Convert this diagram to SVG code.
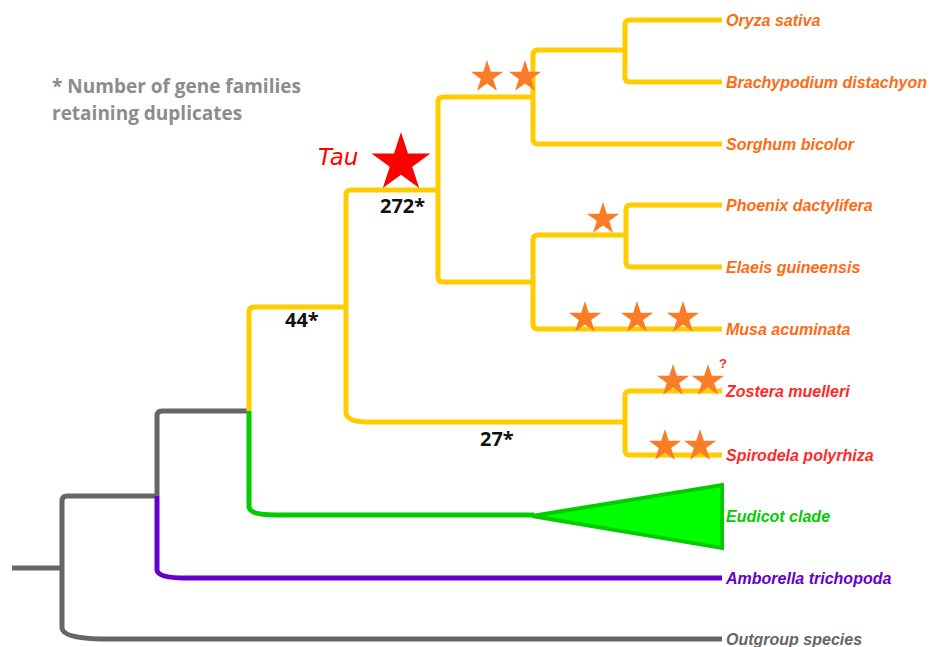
<svg xmlns="http://www.w3.org/2000/svg" xmlns:xlink="http://www.w3.org/1999/xlink" width="932" height="647" viewBox="0 0 932 647">
  <style>
    .br { fill: none; stroke-width: 5; stroke-linejoin: round; stroke-linecap: butt; }
    .grey { stroke: #666666; }
    .yel { stroke: #ffcc00; }
    .grn { stroke: #00cc00; }
    .pur { stroke: #6600cc; }
    .sp { font-family: "Liberation Sans", Arial, sans-serif; font-size: 16px; font-weight: bold; font-style: italic; }
    .mono { fill: #ff6a13; }
    .seag { fill: #ff2a2a; }
    .num { font-family: "Open Sans", "Liberation Sans", sans-serif; font-size: 20px; font-weight: bold; fill: #111111; }
    .legend { font-family: "Open Sans", "Liberation Sans", sans-serif; font-size: 19px; font-weight: bold; fill: #8c8c8c; }
    .star { fill: #fb7c26; }
  </style>
  <defs>
    <polygon id="st" points="0,-17 3.82,-5.26 16.17,-5.25 6.18,2.01 9.99,13.75 0,6.5 -9.99,13.75 -6.18,2.01 -16.17,-5.25 -3.82,-5.26"/>
  </defs>

  <!-- tree branches -->
  <g id="connectors">
    <path class="br grey" d="M12,568 H62"/>
    <path class="br grey" d="M157,496 H67 Q62,496 62,501 V628 Q63,638 100,639 H722"/>
    <path class="br grey" d="M249,411 H162 Q157,411 157,416 V496"/>
    <path class="br pur" d="M157,496 V570 Q158,578 185,578 H722"/>
    <path class="br grn" d="M249,411 V507 Q250,515 275,515 H534"/>
    <path class="br yel" d="M249,411 V312 Q249,307 254,307 H346"/>
    <path class="br yel" d="M346,307 V195 Q346,190 351,190 H438"/>
    <path class="br yel" d="M346,307 V413 Q347,422 368,422 H625"/>
    <path class="br yel" d="M438,190 V102 Q438,97 443,97 H533"/>
    <path class="br yel" d="M438,190 V277 Q438,282 443,282 H533"/>
    <path class="br yel" d="M533,97 V55 Q533,50 538,50 H625"/>
    <path class="br yel" d="M533,97 V139 Q533,144 538,144 H722"/>
    <path class="br yel" d="M625,50 V25 Q625,20 630,20 H722"/>
    <path class="br yel" d="M625,50 V77 Q625,82 630,82 H722"/>
    <path class="br yel" d="M533,282 V240 Q533,235 538,235 H626"/>
    <path class="br yel" d="M533,282 V324 Q533,329 538,329 H722"/>
    <path class="br yel" d="M626,235 V210 Q626,205 631,205 H722"/>
    <path class="br yel" d="M626,235 V262 Q626,267 631,267 H722"/>
    <path class="br yel" d="M625,422 V396 Q625,391 630,391 H722"/>
    <path class="br yel" d="M625,422 V450 Q625,455 630,455 H722"/>
  </g>

  <!-- collapsed eudicot clade -->
  <g id="eudicot">
    <polygon points="532,516 722,485 722,548" fill="#00ff00" stroke="#00cc00" stroke-width="4" stroke-linejoin="miter"/>
    <text class="sp" x="726" y="522" fill="#00cc00">Eudicot clade</text>
  </g>

  <!-- duplication events -->
  <g id="tau">
    <use xlink:href="#st" transform="translate(401,163) scale(1.82)" fill="#ff0000"/>
    <text x="318" y="165" font-family="DejaVu Sans, sans-serif" font-size="23" font-style="italic" fill="#ff0000">Tau</text>
  </g>
  <g id="stars" class="star">
    <use xlink:href="#st" x="487" y="77"/>
    <use xlink:href="#st" x="525" y="77"/>
    <use xlink:href="#st" x="603" y="219"/>
    <use xlink:href="#st" x="585" y="318"/>
    <use xlink:href="#st" x="637" y="318"/>
    <use xlink:href="#st" x="683" y="318"/>
    <use xlink:href="#st" x="673" y="381"/>
    <use xlink:href="#st" x="708" y="381"/>
    <use xlink:href="#st" x="665" y="446"/>
    <use xlink:href="#st" x="700" y="446"/>
  </g>
  <text x="719" y="368" font-family="Liberation Sans, sans-serif" font-size="13" font-weight="bold" fill="#ff2a2a">?</text>

  <!-- gene family counts -->
  <g id="counts">
    <text class="num" x="380" y="213">272*</text>
    <text class="num" x="285" y="327">44*</text>
    <text class="num" x="480" y="446">27*</text>
  </g>

  <g id="legend">
    <text class="legend" x="52" y="93">* Number of gene families</text>
    <text class="legend" x="52" y="120">retaining duplicates</text>
  </g>

  <!-- species labels -->
  <g id="oryza"><text class="sp mono" x="726" y="26">Oryza sativa</text></g>
  <g id="brachypodium"><text class="sp mono" x="726" y="88">Brachypodium distachyon</text></g>
  <g id="sorghum"><text class="sp mono" x="726" y="150">Sorghum bicolor</text></g>
  <g id="phoenix"><text class="sp mono" x="726" y="211">Phoenix dactylifera</text></g>
  <g id="elaeis"><text class="sp mono" x="726" y="273">Elaeis guineensis</text></g>
  <g id="musa"><text class="sp mono" x="726" y="335">Musa acuminata</text></g>
  <g id="zostera"><text class="sp seag" x="726" y="397">Zostera muelleri</text></g>
  <g id="spirodela"><text class="sp seag" x="726" y="461">Spirodela polyrhiza</text></g>
  <g id="amborella"><text class="sp" x="726" y="584" fill="#6600cc">Amborella trichopoda</text></g>
  <g id="outgroup"><text class="sp" x="726" y="645" fill="#666666">Outgroup species</text></g>
</svg>
